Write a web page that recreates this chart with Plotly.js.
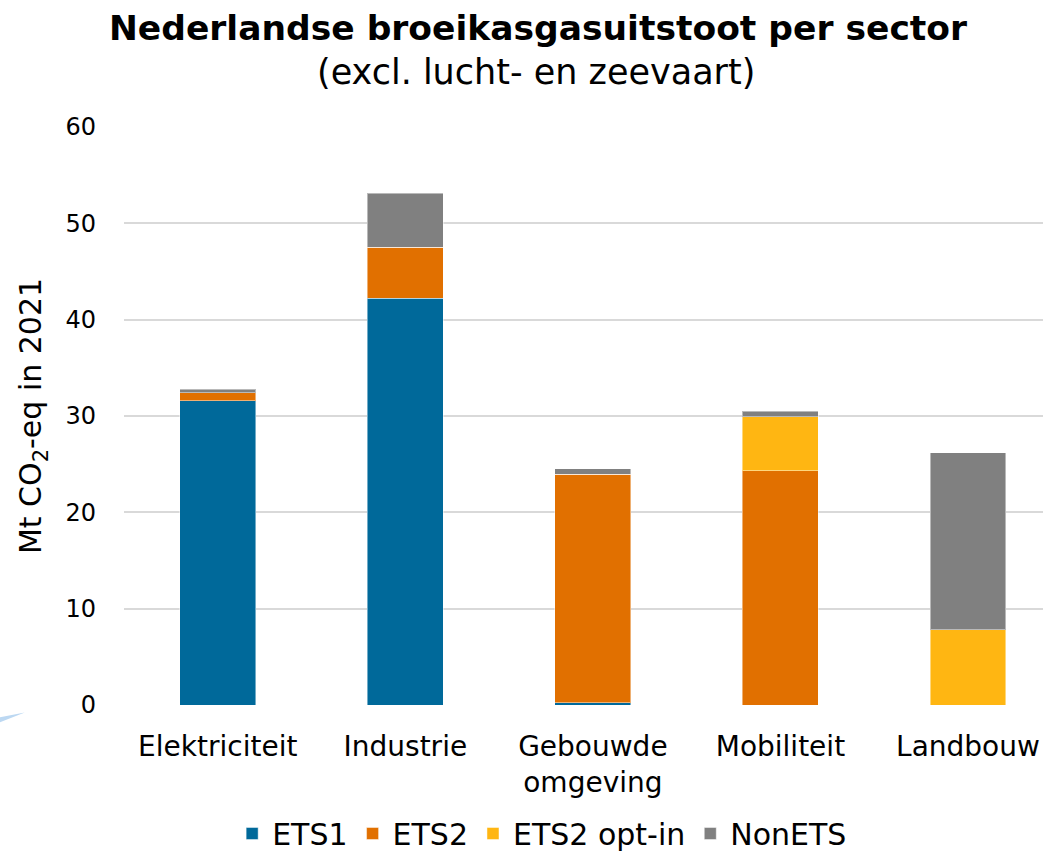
<!DOCTYPE html>
<html>
<head>
<meta charset="utf-8">
<script src="https://cdn.plot.ly/plotly-3.0.1.min.js"></script>
<style>html,body{margin:0;padding:0;background:#fff;}#chart{width:1043px;height:854px;}</style>
</head>
<body>
<div id="chart"></div>
<script>
const categories = ["Elektriciteit", "Industrie", "Gebouwde<br>omgeving", "Mobiliteit", "Landbouw"];
const ets1      = [31.6, 42.2, 0.25, 0,    0];
const ets2      = [0.8,  5.3,  23.7, 24.3, 0];
const ets2OptIn = [0,    0,    0,    5.6,  7.8];
const nonEts    = [0.4,  5.6,  0.6,  0.6,  18.4];
const seriesNames = ["ETS1", "ETS2", "ETS2 opt-in", "NonETS"];
const colors = ["#00699A", "#E17000", "#FFB612", "#808080"];
const yTicks = [0, 10, 20, 30, 40, 50, 60];
const titleText = "Nederlandse broeikasgasuitstoot per sector";
const subtitleText = "(excl. lucht- en zeevaart)";

const font = "DejaVu Sans, Verdana, sans-serif";
const data = [ets1, ets2, ets2OptIn, nonEts].map((vals, i) => ({
  type: "bar",
  name: seriesNames[i],
  x: categories,
  y: vals,
  marker: {color: colors[i], line: {color: "rgba(255,255,255,0.45)", width: 1}},
  hoverinfo: "x+y+name"
}));

const layout = {
  width: 1043, height: 854,
  barmode: "stack",
  bargap: 0.595,
  paper_bgcolor: "#ffffff",
  plot_bgcolor: "#ffffff",
  margin: {l: 124, r: 0, t: 127, b: 149, autoexpand: false},
  font: {family: font, color: "#000", size: 25},
  title: {
    text: "<b>" + titleText + "</b>",
    x: 0.4505, xanchor: "center", xref: "paper",
    yref: "container", y: 0.967, yanchor: "middle",
    font: {family: font, size: 34.5, color: "#000"}
  },
  annotations: [{
    text: subtitleText, showarrow: false,
    xref: "paper", yref: "paper", x: 0.448, xanchor: "center",
    y: (705 - 72) / 578, yanchor: "middle",
    font: {family: font, size: 35, color: "#000"}
  }],
  xaxis: {
    type: "category",
    range: [-0.5, 4.4],
    showgrid: false, zeroline: false, showline: false,
    ticks: "", ticklabelstandoff: 22,
    tickfont: {family: font, size: 28, color: "#000"}
  },
  yaxis: {
    range: [0, 60], tickvals: yTicks,
    showgrid: true, gridcolor: "#d9d9d9", gridwidth: 2,
    zeroline: false, showline: false, ticks: "",
    ticklabelstandoff: 27,
    tickfont: {family: font, size: 24, color: "#000"},
    title: {text: "Mt CO<sub>2</sub>-eq in 2021", standoff: 14, font: {family: font, size: 30, color: "#000"}}
  },
  legend: {
    orientation: "h", x: 0.455, xanchor: "center",
    yref: "container", y: 0.024, yanchor: "middle",
    font: {family: font, size: 30, color: "#000"},
    traceorder: "normal", itemwidth: 30
  },
  shapes: [{
    type: "path", xref: "paper", yref: "paper", layer: "below",
    path: "M -0.135 -0.03 L -0.108 -0.013 L -0.135 -0.021 Z",
    fillcolor: "#bcd8f2", line: {width: 0}
  }],
  showlegend: true
};
Plotly.newPlot("chart", data, layout, {displayModeBar: false, staticPlot: true});
</script>
</body>
</html>
